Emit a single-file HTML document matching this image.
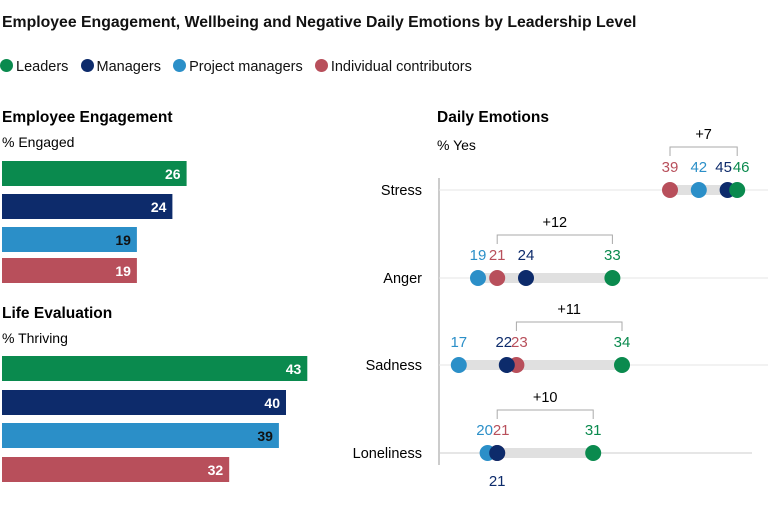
<!DOCTYPE html>
<html><head><meta charset="utf-8"><style>
body{margin:0;width:768px;height:506px;background:#fff;font-family:"Liberation Sans",sans-serif;color:#111;overflow:hidden;position:relative}
.a{position:absolute;white-space:nowrap}
.d{display:inline-block;width:13px;height:13px;border-radius:50%;vertical-align:-1px;margin-right:3px}
</style></head><body>
<div class="a" style="left:2px;top:14px;font-size:15.8px;font-weight:bold">Employee Engagement, Wellbeing and Negative Daily Emotions by Leadership Level</div>
<div class="a" style="left:0;top:59px;font-size:14.5px">
<span><span class="d" style="background:#0a8a4e"></span>Leaders</span>&nbsp;&nbsp;
<span><span class="d" style="background:#0d2b6b"></span>Managers</span>&nbsp;&nbsp;
<span><span class="d" style="background:#2b8fc8"></span>Project managers</span>&nbsp;&nbsp;
<span><span class="d" style="background:#b84f5b"></span>Individual contributors</span>
</div>
<svg id="c" width="768" height="506" style="position:absolute;left:0;top:0" font-family="Liberation Sans, sans-serif"></svg>
<script>
const colors=['#0a8a4e','#0d2b6b','#2b8fc8','#b84f5b'];
const engagement=[26,24,19,19];
const thriving=[43,40,39,32];
const emotions=['Stress','Anger','Sadness','Loneliness'];
const leaders=[46,33,34,31];
const managers=[45,24,22,21];
const projectManagers=[42,19,17,20];
const individuals=[39,21,23,21];
const gaps=['+7','+12','+11','+10'];
const svg=document.getElementById('c');
const NS='http://www.w3.org/2000/svg';
function mk(t,a,txt){const e=document.createElementNS(NS,t);for(const k in a)e.setAttribute(k,a[k]);if(txt!=null)e.textContent=txt;svg.appendChild(e);return e;}
const bx=v=>2+v*7.1;
function section(title,sub,y0,vals,tops,nm){
 let t=mk('text',{x:2,y:y0,'font-size':15.5,'font-weight':'bold'},title);
 
 
 t=mk('text',{x:2,y:y0+25,'font-size':14},sub);
 
 
 vals.forEach((v,i)=>{
  const r=mk('rect',{x:2,y:tops[i],width:bx(v)-2,height:25,fill:colors[i]});
  
  
  const l=mk('text',{x:bx(v)-6,y:tops[i]+18,'font-size':14,'font-weight':'bold','text-anchor':'end',fill:i==2?'#111':'#fff'},v);
  
  
 });
}
section('Employee Engagement','% Engaged',122,engagement,[161,194,227,258],'engagement');
section('Life Evaluation','% Thriving',318,thriving,[356,390,423,457],'life-evaluation');
const ex=v=>295.6+9.6*v;
const rowY=[190,278,365,453];
let t=mk('text',{x:437,y:122,'font-size':15.5,'font-weight':'bold'},'Daily Emotions');


t=mk('text',{x:437,y:150,'font-size':14},'% Yes');


const ax=mk('line',{x1:439,x2:439,y1:178,y2:465,stroke:'#999','stroke-width':1});


emotions.forEach((e,i)=>{
 const y=rowY[i];
 const g=mk('line',{x1:439,x2:i==3?752:768,y1:y,y2:y,stroke:i==3?'#ccc':'#e6e6e6','stroke-width':1});
 
 
 const lb=mk('text',{x:422,y:y+5,'font-size':14.5,'text-anchor':'end'},e);
 
 
 const vals=[leaders[i],managers[i],projectManagers[i],individuals[i]];
 const mn=Math.min(...vals),mx=Math.max(...vals);
 const rg=mk('line',{x1:ex(mn),x2:ex(mx),y1:y,y2:y,stroke:'#e0e0e0','stroke-width':10});
 
 
 const bxl=ex(individuals[i]), br=ex(leaders[i]);
 const br2=mk('path',{d:`M${bxl},${y-34}V${y-43}H${br}V${y-34}`,fill:'none',stroke:'#aaa','stroke-width':1});
 
 
 const gt=mk('text',{x:(bxl+br)/2,y:y-51,'font-size':14.5,'text-anchor':'middle'},gaps[i]);
 
 
 [3,2,1,0].forEach(k=>{
  const c=mk('circle',{cx:ex(vals[k]),cy:y,r:8,fill:colors[k]});
  
  
 });
 vals.forEach((v,k)=>{
  let yy=y-18, xx=ex(v);
  if(i==2&&k==1) xx-=3;
  if(i==2&&k==3) xx+=3;
  if(i==3&&k==1) yy=y+33;
  if(i==3&&k==3) xx+=4;
  if(i==3&&k==2) xx-=3;
  if(i==0&&k==1) xx-=4;
  if(i==0&&k==0) xx+=4;
  const l=mk('text',{x:xx,y:yy,'font-size':15,'text-anchor':'middle',fill:colors[k]},v);
  
  
 });
});
</script>
</body></html>
